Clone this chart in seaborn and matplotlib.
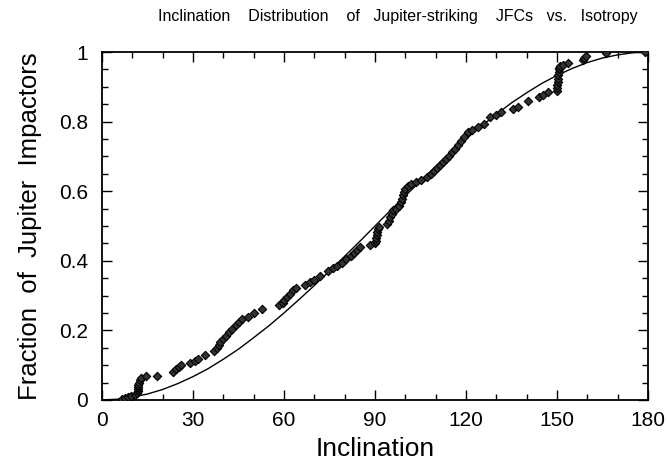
import numpy as np
import pandas as pd
import matplotlib
matplotlib.use("Agg")
import matplotlib.pyplot as plt
from matplotlib.ticker import MultipleLocator
import seaborn as sns

# Cumulative inclination distribution of Jupiter-striking JFCs
incl = [6.5, 7.5, 8.5, 9.5, 11.0, 11.5, 11.7, 11.8, 12.0, 12.0, 12.2, 12.5, 13.0, 14.5,
        18.0, 23.5, 24.5, 25.5, 26.0, 29.0, 30.5, 31.5, 34.0, 37.0, 38.0, 38.5, 39.0,
        40.0, 41.0, 42.0, 43.0, 44.0, 45.0, 46.0, 48.0, 50.0, 52.7, 58.5, 59.5, 60.0,
        61.0, 62.0, 63.0, 64.0, 67.0, 68.5, 70.0, 72.0, 74.5, 76.0, 77.5, 79.0, 80.5,
        82.0, 83.0, 84.0, 85.0, 88.5, 90.0, 90.2, 90.4, 90.5, 90.7, 91.0, 91.2, 94.0,
        94.5, 95.0, 95.5, 96.0, 97.0, 98.0, 98.5, 99.0, 99.3, 99.7, 100.0, 101.0,
        102.0, 103.5, 105.0, 107.0, 108.5, 109.5, 110.5, 111.5, 112.5, 113.5, 114.5,
        115.5, 116.5, 117.5, 118.5, 119.5, 120.5, 122.0, 124.0, 126.0, 128.0, 130.0,
        131.5, 135.5, 137.0, 140.5, 144.0, 145.5, 147.0, 150.0, 150.0, 150.1, 150.2,
        150.3, 150.4, 150.5, 150.6, 150.8, 151.0, 152.0, 153.6, 158.5, 159.0, 159.5,
        166.0, 179.0]
frac = [0.003, 0.006, 0.009, 0.012, 0.015, 0.020, 0.026, 0.032, 0.038, 0.044, 0.050,
        0.056, 0.062, 0.068, 0.070, 0.080, 0.088, 0.096, 0.100, 0.106, 0.112, 0.118,
        0.128, 0.140, 0.150, 0.158, 0.166, 0.174, 0.185, 0.195, 0.205, 0.215, 0.225,
        0.232, 0.238, 0.250, 0.262, 0.272, 0.280, 0.288, 0.296, 0.305, 0.315, 0.322,
        0.330, 0.338, 0.346, 0.356, 0.370, 0.378, 0.386, 0.395, 0.404, 0.413, 0.422,
        0.432, 0.440, 0.445, 0.450, 0.458, 0.466, 0.474, 0.482, 0.490, 0.498, 0.505,
        0.515, 0.525, 0.535, 0.545, 0.550, 0.558, 0.568, 0.578, 0.588, 0.598, 0.606,
        0.614, 0.620, 0.626, 0.632, 0.642, 0.650, 0.658, 0.666, 0.675, 0.684, 0.693,
        0.702, 0.712, 0.722, 0.732, 0.745, 0.757, 0.770, 0.777, 0.784, 0.792,
        0.812, 0.820, 0.828, 0.835, 0.843, 0.858, 0.872, 0.878, 0.884, 0.888, 0.897,
        0.906, 0.915, 0.924, 0.933, 0.942, 0.950, 0.955, 0.960, 0.963, 0.970, 0.977,
        0.983, 0.990, 0.997, 1.000]

# Isotropic distribution curve (every 5 degrees)
iso_incl = [0, 5, 10, 15, 20, 25, 30, 35, 40, 45, 50, 55, 60, 65, 70, 75, 80, 85, 90,
            95, 100, 105, 110, 115, 120, 125, 130, 135, 140, 145, 150, 155, 160, 165,
            170, 175, 180]
iso_frac = [0.0, 0.002, 0.008, 0.017, 0.030, 0.047, 0.067, 0.090, 0.117, 0.146, 0.179,
            0.213, 0.250, 0.289, 0.329, 0.371, 0.413, 0.456, 0.500, 0.544, 0.587, 0.629,
            0.671, 0.711, 0.750, 0.787, 0.821, 0.854, 0.883, 0.910, 0.933, 0.953, 0.970,
            0.983, 0.992, 0.998, 1.0]

df = pd.DataFrame({"Inclination": incl, "Fraction": frac})
iso = pd.DataFrame({"Inclination": iso_incl, "Fraction": iso_frac})

sns.set_style("ticks", {"axes.edgecolor": "black", "text.color": "black",
                        "axes.labelcolor": "black", "xtick.color": "black",
                        "ytick.color": "black"})
plt.rcParams["font.family"] = ["Liberation Sans", "DejaVu Sans"]

fig = plt.figure(figsize=(6.67, 4.65), dpi=100)
ax = fig.add_axes([0.153, 0.14, 0.8185, 0.748])

sns.lineplot(data=iso, x="Inclination", y="Fraction", color="black", linewidth=1.0, ax=ax)
sns.scatterplot(data=df, x="Inclination", y="Fraction", marker="D", s=18,
                color="#333333", edgecolor="black", linewidth=0.8, ax=ax, zorder=3)

ax.set_xlim(0, 180)
ax.set_ylim(0, 1)
ax.xaxis.set_major_locator(MultipleLocator(30))
ax.xaxis.set_minor_locator(MultipleLocator(10))
ax.yaxis.set_major_locator(MultipleLocator(0.2))
ax.yaxis.set_minor_locator(MultipleLocator(0.05))
ax.set_yticks([0, 0.2, 0.4, 0.6, 0.8, 1.0])
ax.set_yticklabels(["0", "0.2", "0.4", "0.6", "0.8", "1"])
ax.tick_params(which="both", direction="in", top=True, right=True, labelsize=15, width=1,
               colors="black")
ax.tick_params(axis="x", which="major", pad=8)
ax.tick_params(axis="y", which="major", pad=10)
ax.tick_params(which="major", length=7)
ax.tick_params(which="minor", length=4)
for s in ax.spines.values():
    s.set_linewidth(1.3)
    s.set_color("black")

ax.set_xlabel("Inclination", fontsize=19, labelpad=5, color="black")
ax.set_ylabel("Fraction  of  Jupiter  Impactors", fontsize=18.5, labelpad=12, color="black")
fig.text(0.597, 0.965,
         "Inclination    Distribution    of   Jupiter-striking    JFCs   vs.   Isotropy",
         ha="center", va="center", fontsize=11.5, color="black")

fig.savefig("out.png", dpi=100)
